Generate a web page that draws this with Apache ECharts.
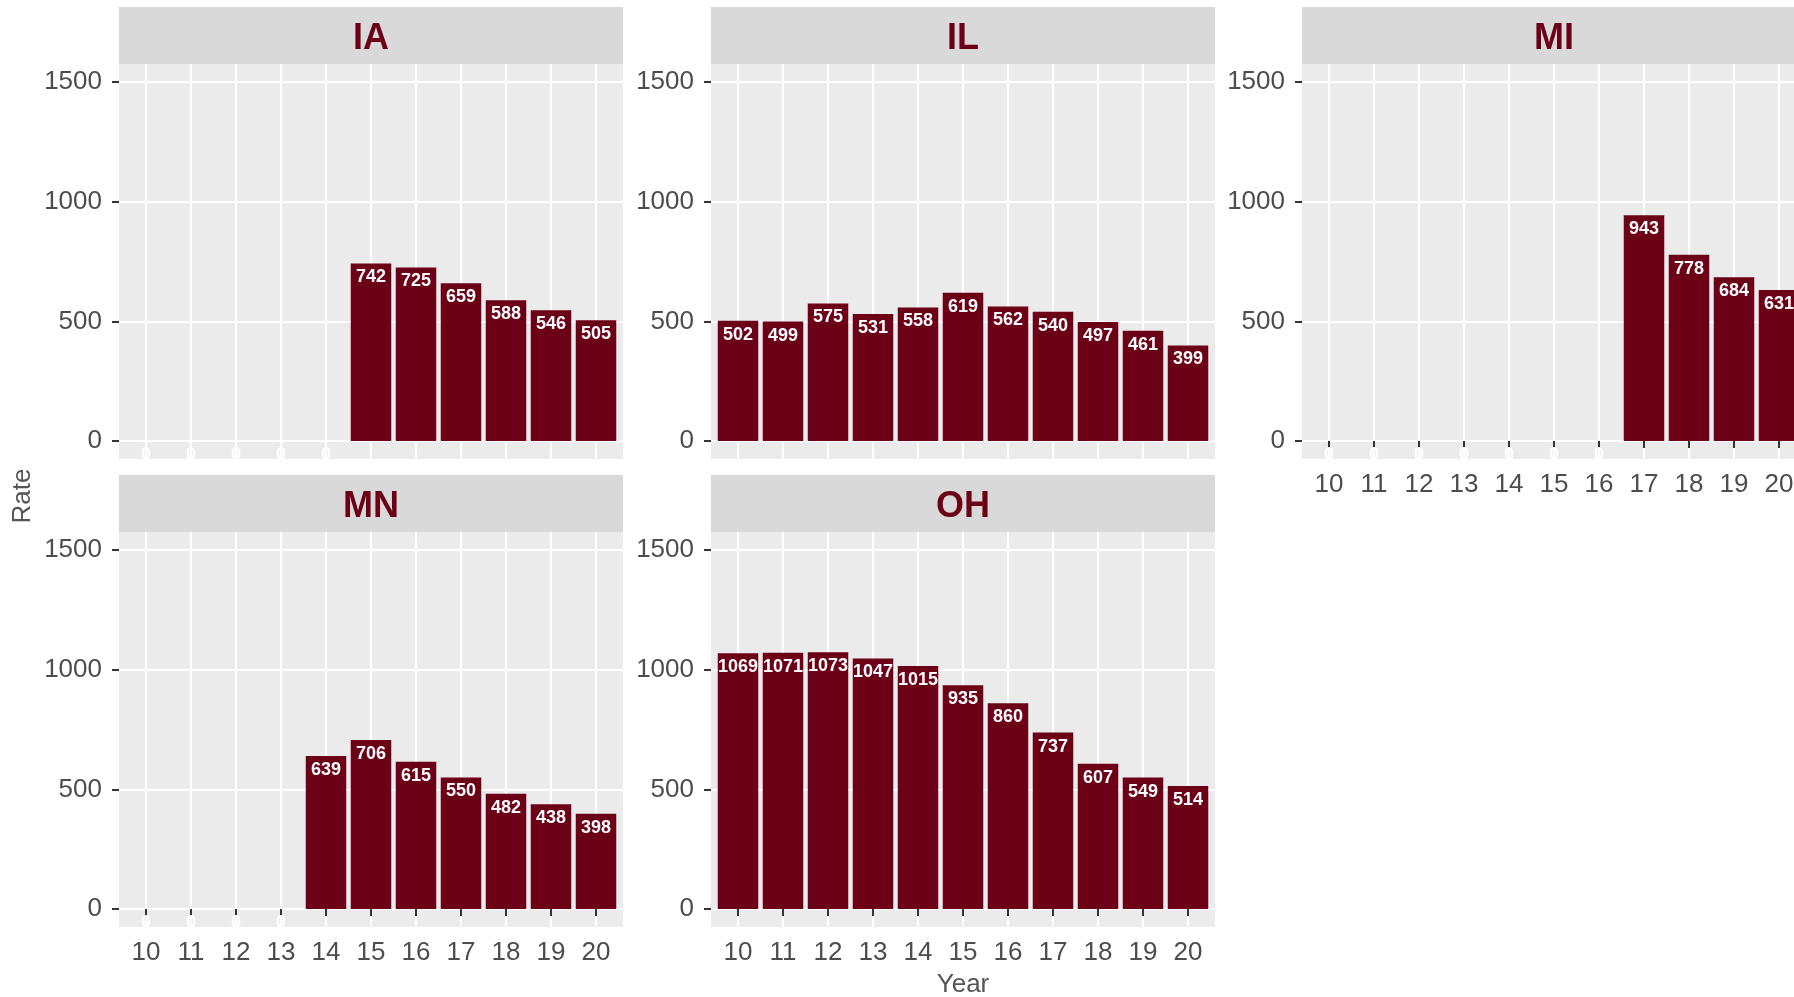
<!DOCTYPE html>
<html>
<head>
<meta charset="utf-8">
<script src="https://cdn.jsdelivr.net/npm/echarts@6/dist/echarts.min.js"></script>
<style>
  html, body { margin: 0; padding: 0; background: #fff; }
  #main { width: 1794px; height: 997px; }
</style>
</head>
<body>
<div id="main"></div>
<script>
// data
var years = [10, 11, 12, 13, 14, 15, 16, 17, 18, 19, 20];
var states = ['IA', 'IL', 'MI', 'MN', 'OH'];
var rateIA = [0, 0, 0, 0, 0, 742, 725, 659, 588, 546, 505];
var rateIL = [502, 499, 575, 531, 558, 619, 562, 540, 497, 461, 399];
var rateMI = [0, 0, 0, 0, 0, 0, 0, 943, 778, 684, 631];
var rateMN = [0, 0, 0, 0, 639, 706, 615, 550, 482, 438, 398];
var rateOH = [1069, 1071, 1073, 1047, 1015, 935, 860, 737, 607, 549, 514];
var yTicks = [0, 500, 1000, 1500];

var rates = [rateIA, rateIL, rateMI, rateMN, rateOH];

// panel layout (facet_wrap look)
var FONT = '"Liberation Sans", Arial, sans-serif';
var BAR = '#6C0016';
var panelW = 504, panelH = 395, stripH = 57;
var panels = [
    { left: 119, top: 64, xLabels: false },
    { left: 711, top: 64, xLabels: false },
    { left: 1302, top: 64, xLabels: true },
    { left: 119, top: 532, xLabels: true },
    { left: 711, top: 532, xLabels: true }
];

var plain = function (v) { return String(v); };

var grids = [], xAxes = [], yAxes = [], series = [], graphics = [];

panels.forEach(function (p, i) {
    grids.push({
        left: p.left, top: p.top, width: panelW, height: panelH,
        show: true, backgroundColor: '#EBEBEB', borderWidth: 0,
        containLabel: false, outerBoundsMode: 'none'
    });
    xAxes.push({
        type: 'value', gridIndex: i, min: 9.4, max: 20.6,
        axisLine: { show: false },
        axisTick: {
            show: p.xLabels, customValues: years, length: 7,
            lineStyle: { color: '#333333', width: 2 }
        },
        axisLabel: {
            show: p.xLabels, customValues: years, margin: 13, formatter: plain,
            fontSize: 26, color: '#4D4D4D', fontFamily: FONT
        },
        splitLine: { show: true, lineStyle: { color: '#FFFFFF', width: 2 } }
    });
    yAxes.push({
        type: 'value', gridIndex: i, min: -75, max: 1575,
        axisLine: { show: false },
        axisTick: {
            show: true, customValues: yTicks, length: 7,
            lineStyle: { color: '#333333', width: 2 }
        },
        axisLabel: {
            customValues: yTicks, margin: 17, formatter: plain,
            fontSize: 26, color: '#4D4D4D', fontFamily: FONT
        },
        splitLine: { show: true, lineStyle: { color: '#FFFFFF', width: 2 } }
    });
    series.push({
        type: 'bar', xAxisIndex: i, yAxisIndex: i,
        data: years.map(function (y, k) { return [y, rates[i][k]]; }),
        barWidth: '90%',
        itemStyle: { color: BAR },
        label: {
            show: true, position: 'insideTop', distance: 5,
            color: '#FFFFFF', fontWeight: 'bold', fontSize: 18, fontFamily: FONT
        },
        silent: true
    });
    // strip
    graphics.push({
        type: 'rect', left: p.left, top: p.top - stripH,
        shape: { width: panelW, height: stripH },
        style: { fill: '#D9D9D9' }
    });
    graphics.push({
        type: 'text', x: p.left + panelW / 2, y: p.top - stripH / 2 + 4,
        style: {
            text: states[i], fill: BAR, font: 'bold 36px ' + FONT,
            textAlign: 'center', textVerticalAlign: 'middle'
        }
    });
});

graphics.push({
    type: 'text', x: 23, y: 496, rotation: Math.PI / 2,
    style: {
        text: 'Rate', fill: '#555555', font: '26px ' + FONT,
        textAlign: 'center', textVerticalAlign: 'middle'
    }
});
graphics.push({
    type: 'text', x: 963, y: 985,
    style: {
        text: 'Year', fill: '#555555', font: '26px ' + FONT,
        textAlign: 'center', textVerticalAlign: 'middle'
    }
});

var chart = echarts.init(document.getElementById('main'));
chart.setOption({
    animation: false,
    backgroundColor: '#FFFFFF',
    grid: grids,
    xAxis: xAxes,
    yAxis: yAxes,
    series: series,
    graphic: graphics
});
</script>
</body>
</html>
